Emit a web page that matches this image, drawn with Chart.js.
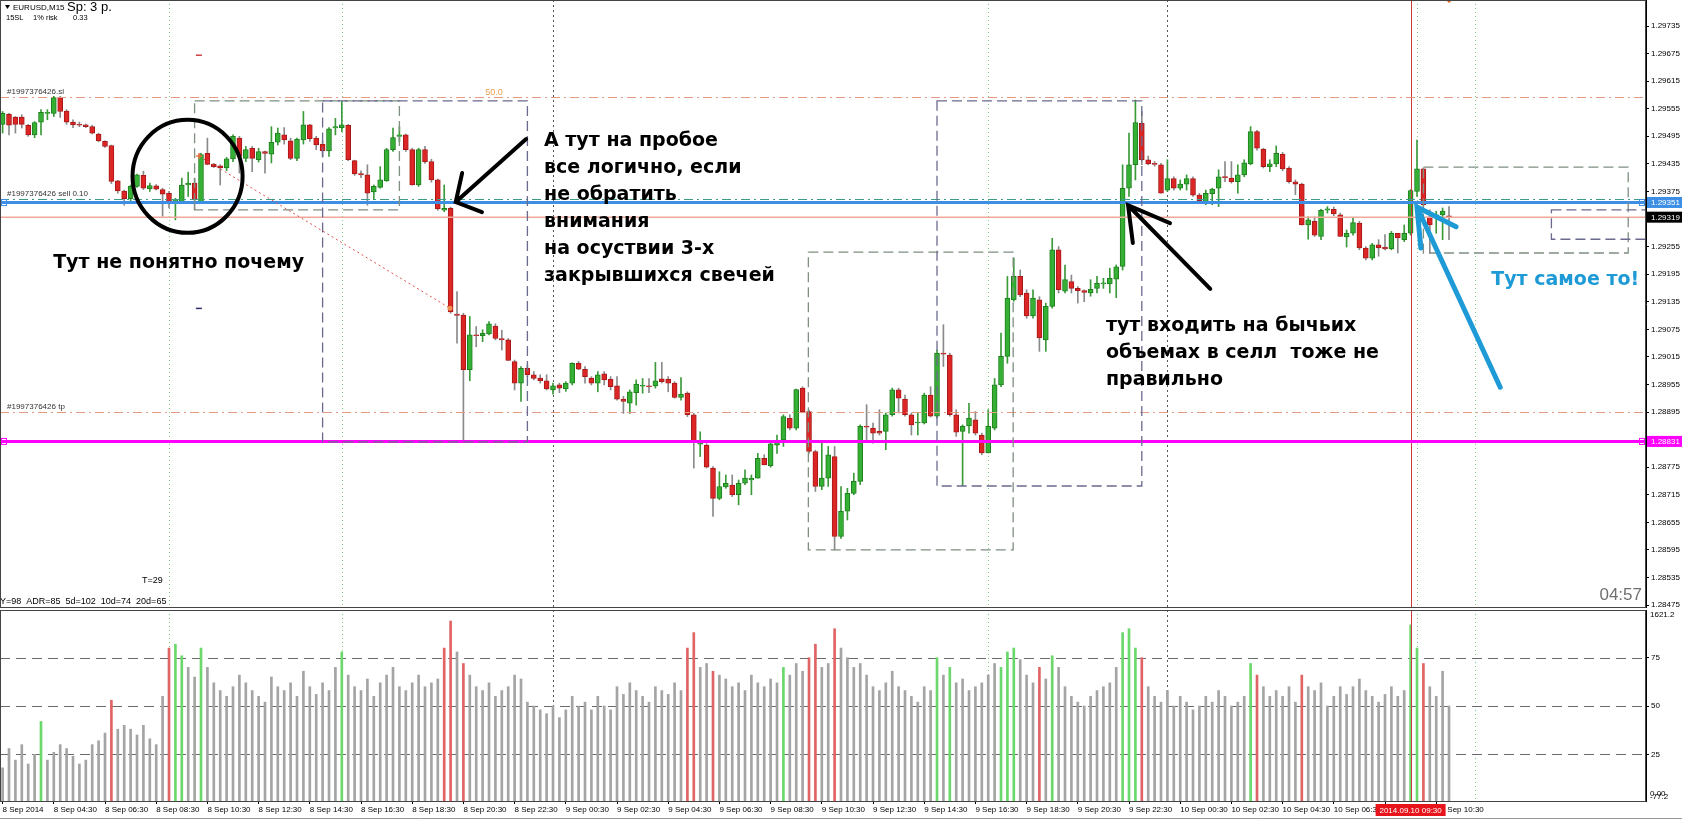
<!DOCTYPE html>
<html>
<head>
<meta charset="utf-8">
<script src="https://cdn.jsdelivr.net/npm/chart.js@4.4.1/dist/chart.umd.min.js"></script>
<style>
html,body{margin:0;padding:0;background:#fff;}
#wrap{position:relative;width:1682px;height:820px;overflow:hidden;background:#fff;}
#cPrice{position:absolute;left:0;top:0;}
#cVol{position:absolute;left:0;top:609px;}
</style>
</head>
<body>
<div id="wrap">
  <canvas id="cPrice" width="1682" height="608"></canvas>
  <canvas id="cVol" width="1682" height="211"></canvas>
</div>
<script>
// EURUSD M15, bars from 8 Sep 02:30 (index 0) to 10 Sep 11:00 (index 226)
const OPEN=[1.29521,1.29543,1.29537,1.29537,1.29519,1.29498,1.29526,1.29545,1.29545,1.29579,
1.29550,1.29526,1.29520,1.29520,1.29516,1.29500,1.29484,1.29475,1.29398,1.29376,
1.29359,1.29386,1.29410,1.29381,1.29387,1.29379,1.29371,1.29353,1.29353,1.29389,
1.29393,1.29353,1.29458,1.29434,1.29431,1.29426,1.29446,1.29491,1.29447,1.29469,
1.29444,1.29462,1.29456,1.29482,1.29498,1.29485,1.29447,1.29487,1.29520,1.29491,
1.29478,1.29463,1.29513,1.29514,1.29519,1.29442,1.29414,1.29411,1.29374,1.29384,
1.29398,1.29466,1.29495,1.29498,1.29466,1.29389,1.29466,1.29440,1.29400,1.29334,
1.29338,1.29108,1.29106,1.28987,1.29063,1.29061,1.29065,1.29082,1.29055,1.29052,
1.29005,1.28958,1.28990,1.28976,1.28969,1.28963,1.28943,1.28954,1.28945,1.28958,
1.29001,1.28988,1.28969,1.28958,1.28978,1.28966,1.28952,1.28923,1.28914,1.28937,
1.28951,1.28952,1.28952,1.28967,1.28966,1.28958,1.28927,1.28936,1.28889,1.28825,
1.28823,1.28773,1.28707,1.28732,1.28736,1.28715,1.28740,1.28747,1.28751,1.28794,
1.28778,1.28823,1.28834,1.28881,1.28860,1.28947,1.28896,1.28809,1.28733,1.28751,
1.28798,1.28624,1.28679,1.28718,1.28744,1.28864,1.28860,1.28853,1.28853,1.28889,
1.28943,1.28923,1.28889,1.28871,1.28871,1.28932,1.28886,1.29023,1.29019,1.28889,
1.28853,1.28865,1.28878,1.28845,1.28806,1.28860,1.28954,1.29016,1.29139,1.29190,
1.29154,1.29104,1.29139,1.29052,1.29125,1.29248,1.29158,1.29179,1.29164,1.29159,
1.29154,1.29164,1.29174,1.29174,1.29184,1.29212,1.29382,1.29433,1.29523,1.29444,
1.29435,1.29433,1.29378,1.29403,1.29382,1.29391,1.29403,1.29367,1.29353,1.29370,
1.29382,1.29407,1.29404,1.29396,1.29411,1.29435,1.29505,1.29467,1.29429,1.29435,
1.29456,1.29426,1.29396,1.29391,1.29302,1.29310,1.29277,1.29334,1.29336,1.29324,
1.29276,1.29284,1.29306,1.29252,1.29230,1.29259,1.29254,1.29250,1.29284,1.29270,
1.29284,1.29375,1.29424,1.29320,1.29320,1.29324,1.29322];
const HIGH=[1.29549,1.29545,1.29538,1.29542,1.29521,1.29527,1.29553,1.29553,1.29582,1.29582,
1.29553,1.29531,1.29526,1.29522,1.29519,1.29502,1.29485,1.29476,1.29399,1.29378,
1.29389,1.29413,1.29419,1.29393,1.29390,1.29382,1.29375,1.29360,1.29404,1.29417,
1.29404,1.29458,1.29491,1.29436,1.29433,1.29449,1.29498,1.29495,1.29473,1.29473,
1.29469,1.29463,1.29516,1.29513,1.29514,1.29491,1.29491,1.29549,1.29521,1.29495,
1.29484,1.29514,1.29534,1.29571,1.29521,1.29443,1.29420,1.29433,1.29389,1.29429,
1.29469,1.29513,1.29516,1.29500,1.29469,1.29469,1.29473,1.29445,1.29402,1.29389,
1.29341,1.29157,1.29110,1.29103,1.29081,1.29074,1.29092,1.29087,1.29073,1.29055,
1.29008,1.28994,1.28997,1.28983,1.28976,1.28976,1.28958,1.28958,1.28961,1.29002,
1.29005,1.28994,1.28972,1.28983,1.28983,1.28972,1.28972,1.28929,1.28943,1.28965,
1.28968,1.28968,1.29003,1.29003,1.28972,1.28961,1.28970,1.28939,1.28892,1.28852,
1.28826,1.28776,1.28765,1.28758,1.28758,1.28747,1.28769,1.28758,1.28805,1.28802,
1.28829,1.28845,1.28889,1.28889,1.28945,1.28950,1.28899,1.28812,1.28831,1.28820,
1.28820,1.28733,1.28729,1.28762,1.28867,1.28911,1.28871,1.28900,1.28893,1.28947,
1.28947,1.28932,1.28893,1.28893,1.28936,1.28950,1.29030,1.29085,1.29023,1.28900,
1.28867,1.28914,1.28896,1.28849,1.28900,1.28968,1.29067,1.29190,1.29230,1.29204,
1.29161,1.29161,1.29146,1.29132,1.29273,1.29255,1.29215,1.29193,1.29168,1.29161,
1.29183,1.29190,1.29186,1.29208,1.29215,1.29433,1.29502,1.29574,1.29549,1.29452,
1.29440,1.29436,1.29444,1.29407,1.29400,1.29411,1.29407,1.29371,1.29378,1.29382,
1.29422,1.29440,1.29440,1.29433,1.29444,1.29516,1.29508,1.29469,1.29444,1.29474,
1.29460,1.29429,1.29400,1.29393,1.29320,1.29320,1.29336,1.29342,1.29341,1.29328,
1.29291,1.29317,1.29310,1.29255,1.29262,1.29270,1.29281,1.29288,1.29284,1.29302,
1.29379,1.29487,1.29426,1.29335,1.29332,1.29339,1.29342];
const LOW=[1.29502,1.29498,1.29502,1.29513,1.29495,1.29492,1.29498,1.29531,1.29538,1.29536,
1.29521,1.29514,1.29516,1.29514,1.29500,1.29483,1.29471,1.29392,1.29371,1.29345,
1.29353,1.29384,1.29379,1.29375,1.29378,1.29321,1.29339,1.29313,1.29350,1.29364,
1.29335,1.29350,1.29433,1.29427,1.29389,1.29420,1.29440,1.29415,1.29440,1.29418,
1.29439,1.29415,1.29437,1.29476,1.29478,1.29444,1.29442,1.29478,1.29484,1.29466,
1.29451,1.29451,1.29498,1.29505,1.29442,1.29410,1.29405,1.29345,1.29357,1.29382,
1.29397,1.29462,1.29484,1.29462,1.29389,1.29386,1.29436,1.29395,1.29334,1.29331,
1.29110,1.29045,1.28831,1.28963,1.29037,1.29048,1.29063,1.29052,1.29030,1.29007,
1.28943,1.28918,1.28972,1.28965,1.28958,1.28943,1.28934,1.28937,1.28940,1.28954,
1.28987,1.28958,1.28954,1.28939,1.28954,1.28943,1.28921,1.28892,1.28892,1.28910,
1.28936,1.28937,1.28947,1.28958,1.28939,1.28925,1.28921,1.28885,1.28773,1.28798,
1.28773,1.28668,1.28704,1.28729,1.28711,1.28693,1.28737,1.28715,1.28751,1.28780,
1.28775,1.28805,1.28820,1.28856,1.28856,1.28896,1.28805,1.28722,1.28726,1.28733,
1.28595,1.28620,1.28660,1.28715,1.28737,1.28835,1.28827,1.28845,1.28813,1.28886,
1.28893,1.28886,1.28845,1.28845,1.28869,1.28884,1.28882,1.28994,1.28886,1.28842,
1.28735,1.28849,1.28845,1.28802,1.28806,1.28856,1.28950,1.29001,1.29136,1.29146,
1.29099,1.29099,1.29027,1.29027,1.29121,1.29154,1.29154,1.29154,1.29132,1.29135,
1.29147,1.29154,1.29164,1.29154,1.29144,1.29204,1.29364,1.29400,1.29433,1.29433,
1.29430,1.29371,1.29375,1.29378,1.29378,1.29378,1.29364,1.29349,1.29346,1.29346,
1.29342,1.29396,1.29393,1.29371,1.29407,1.29433,1.29465,1.29426,1.29418,1.29429,
1.29420,1.29393,1.29368,1.29302,1.29271,1.29277,1.29270,1.29328,1.29322,1.29277,
1.29254,1.29280,1.29248,1.29226,1.29226,1.29234,1.29248,1.29248,1.29241,1.29266,
1.29280,1.29364,1.29342,1.29241,1.29284,1.29270,1.29270];
const CLOSE=[1.29545,1.29519,1.29521,1.29521,1.29498,1.29525,1.29547,1.29546,1.29579,1.29549,
1.29526,1.29520,1.29519,1.29516,1.29502,1.29485,1.29473,1.29397,1.29376,1.29359,
1.29386,1.29411,1.29382,1.29388,1.29380,1.29369,1.29353,1.29357,1.29389,1.29393,
1.29357,1.29455,1.29434,1.29429,1.29426,1.29446,1.29495,1.29451,1.29466,1.29447,
1.29462,1.29458,1.29482,1.29502,1.29487,1.29447,1.29489,1.29520,1.29490,1.29476,
1.29463,1.29511,1.29516,1.29520,1.29444,1.29413,1.29411,1.29371,1.29386,1.29400,
1.29466,1.29492,1.29498,1.29466,1.29389,1.29466,1.29440,1.29400,1.29337,1.29338,
1.29113,1.29105,1.28987,1.29063,1.29061,1.29066,1.29087,1.29055,1.29052,1.29007,
1.28958,1.28990,1.28976,1.28968,1.28963,1.28945,1.28952,1.28947,1.28958,1.29001,
1.28988,1.28972,1.28958,1.28976,1.28965,1.28950,1.28923,1.28918,1.28939,1.28956,
1.28952,1.28950,1.28963,1.28961,1.28958,1.28927,1.28934,1.28889,1.28831,1.28826,
1.28775,1.28707,1.28733,1.28740,1.28715,1.28740,1.28751,1.28751,1.28794,1.28780,
1.28826,1.28831,1.28885,1.28860,1.28944,1.28896,1.28809,1.28733,1.28751,1.28802,
1.28624,1.28679,1.28718,1.28744,1.28864,1.28862,1.28849,1.28849,1.28889,1.28943,
1.28925,1.28889,1.28867,1.28872,1.28932,1.28886,1.29023,1.29021,1.28889,1.28851,
1.28864,1.28882,1.28849,1.28806,1.28864,1.28954,1.29016,1.29143,1.29190,1.29150,
1.29104,1.29143,1.29056,1.29125,1.29248,1.29161,1.29183,1.29164,1.29159,1.29155,
1.29162,1.29175,1.29174,1.29186,1.29211,1.29382,1.29433,1.29525,1.29444,1.29435,
1.29434,1.29371,1.29403,1.29382,1.29391,1.29403,1.29367,1.29355,1.29371,1.29380,
1.29407,1.29405,1.29396,1.29411,1.29437,1.29505,1.29469,1.29429,1.29435,1.29458,
1.29424,1.29396,1.29391,1.29302,1.29313,1.29280,1.29334,1.29337,1.29326,1.29277,
1.29284,1.29307,1.29252,1.29230,1.29259,1.29252,1.29250,1.29284,1.29274,1.29284,
1.29377,1.29424,1.29346,1.29302,1.29324,1.29332,1.29319];
// tick volume oscillator (panel below), levels at 25/50/75
const VOLUME=[18,28,22,30,20,25,42,22,26,30,
28,24,20,22,30,32,36,53,38,40,
38,35,40,33,30,55,80,82,76,70,
65,80,70,62,58,55,60,66,62,58,
55,52,65,60,58,62,55,68,60,56,
62,58,70,78,66,60,58,64,55,62,
66,70,60,58,62,66,60,62,64,80,
94,78,72,66,60,58,62,55,58,60,
66,64,52,50,48,46,50,44,48,55,
50,52,48,55,50,48,60,56,62,58,
55,52,60,58,56,62,58,80,88,70,
72,68,66,64,60,62,58,66,62,60,
64,62,70,66,72,68,75,82,70,72,
90,80,75,70,72,66,60,58,62,68,
60,58,55,52,60,58,75,66,70,62,
64,58,60,62,66,72,70,78,80,74,
66,62,70,64,76,70,60,55,52,50,
55,58,60,62,70,88,90,80,75,60,
55,52,58,50,55,52,48,50,55,52,
58,55,50,52,55,72,66,60,55,58,
55,60,52,66,60,58,62,50,55,60,
56,60,64,58,55,52,56,60,55,58,
92,80,72,60,55,68,50];
const VOL_TONE=['n','n','n','n','n','n','g','n','n','n',
'n','n','n','n','n','n','n','r','n','n',
'n','n','n','n','n','n','r','g','g','n',
'n','g','n','n','n','n','n','n','n','n',
'n','n','n','n','n','n','n','n','n','n',
'n','n','n','g','n','n','n','n','n','n',
'n','n','n','n','n','n','n','n','n','r',
'r','n','r','n','n','n','n','n','n','n',
'n','n','n','n','n','n','n','n','n','n',
'n','n','n','n','n','n','n','n','n','n',
'n','n','n','n','n','n','n','r','r','n',
'n','r','n','n','n','n','n','n','n','n',
'n','n','g','n','n','n','r','r','n','n',
'r','n','n','n','n','n','n','n','n','n',
'n','n','n','n','n','n','g','n','g','n',
'n','n','n','n','n','n','g','g','g','n',
'n','n','r','n','g','n','n','n','n','n',
'n','n','n','n','n','g','g','g','r','n',
'n','n','n','n','n','n','n','n','n','n',
'n','n','n','n','n','g','r','n','n','n',
'n','n','n','r','n','n','n','n','n','n',
'n','n','n','n','n','n','n','n','n','n',
'g','g','r','n','n','n','n'];
const TIME_LABELS=['8 Sep 2014','8 Sep 04:30','8 Sep 06:30','8 Sep 08:30','8 Sep 10:30','8 Sep 12:30',
'8 Sep 14:30','8 Sep 16:30','8 Sep 18:30','8 Sep 20:30','8 Sep 22:30','9 Sep 00:30','9 Sep 02:30',
'9 Sep 04:30','9 Sep 06:30','9 Sep 08:30','9 Sep 10:30','9 Sep 12:30','9 Sep 14:30','9 Sep 16:30',
'9 Sep 18:30','9 Sep 20:30','9 Sep 22:30','10 Sep 00:30','10 Sep 02:30','10 Sep 04:30','10 Sep 06:30',
'10 Sep 08:30','10 Sep 10:30'];
const LABEL_STEP=8;
const PRICE_TICKS=[1.28475,1.28535,1.28595,1.28655,1.28715,1.28775,1.28835,1.28895,1.28955,1.29015,
1.29075,1.29135,1.29195,1.29255,1.29315,1.29375,1.29435,1.29495,1.29555,1.29615,1.29675,1.29735];
const LEVELS=[25,50,75];

// levels / objects on the chart
const SL_PRICE=1.29580, SELL_PRICE=1.29358, ORDER_PRICE=1.29351, BID_PRICE=1.29319, TP_PRICE=1.28894, MAG_PRICE=1.28831;
const DAY_SEP=[86,182];
const GREEN_VLINES=[26,53,154,221,230];
const RED_VLINE=220;
const BOXES=[
  {from:30,to:62,top:1.29572,bottom:1.29335,kind:'g'},
  {from:50,to:82,top:1.29572,bottom:1.28830,kind:'b'},
  {from:125.9,to:157.9,top:1.29243,bottom:1.28595,kind:'g'},
  {from:146,to:178,top:1.29572,bottom:1.28734,kind:'b'},
  {from:222,to:254,top:1.29428,bottom:1.29241,kind:'g'},
  {from:242,to:274,top:1.29335,bottom:1.29271,kind:'b'}
];
const TRADE=[{i:30.7,p:1.29452},{i:69.9,p:1.29121}];
const ARROWS=[
  {tail:[81.8,1.29489],tip:[70.8,1.29352],a:[71.8,1.29415],b:[74.9,1.29330],color:'#000'},
  {tail:[188.7,1.29163],tip:[175.85,1.29345],a:[176.6,1.29263],b:[182.4,1.29306],color:'#000'},
  {tail:[234,1.28949],tip:[221,1.29341],a:[221.6,1.29252],b:[227.1,1.29298],color:'#1e9ad6'}
];
const CIRCLE={i:28.9,p:1.29408,ri:8.6,rp:0.00123};
const NOTES=[
  {i:7.9,p:1.29219,lines:['Тут не понятно почему'],color:'#000'},
  {i:84.6,p:1.29485,lines:['А тут на пробое','все логично, если','не обратить','внимания','на осуствии 3-х','закрывшихся свечей'],color:'#000'},
  {i:172.4,p:1.29082,lines:['тут входить на бычьих','объемах в селл  тоже не','правильно'],color:'#000'},
  {i:232.6,p:1.29182,lines:['Тут самое то!'],color:'#1e9ad6'}
];

const BAR_COUNT=OPEN.length;
const IDX=Array.from({length:BAR_COUNT},(_,i)=>i);
const X_MIN=-0.40625, X_MAX=256.78;
const P_MIN=1.284685, P_MAX=1.297916;
const V_MIN=0.83, V_MAX=99.7;

const UP='#35b035', UP_EDGE='#1f7f1f', DN='#dc2626', DN_EDGE='#a81818';
const isUp=i=>CLOSE[i]>=OPEN[i];
const FONT='"Liberation Sans", Arial, sans-serif';

function vlines(ctx,area,xs){
  ctx.save();
  ctx.lineWidth=1;
  ctx.setLineDash([1,3]);
  ctx.strokeStyle='#7fcf7f';
  GREEN_VLINES.forEach(i=>{const x=Math.round(xs.getPixelForValue(i))+0.5;ctx.beginPath();ctx.moveTo(x,area.top);ctx.lineTo(x,area.bottom);ctx.stroke();});
  ctx.setLineDash([2,3]);
  ctx.strokeStyle='#555';
  DAY_SEP.forEach(i=>{const x=Math.round(xs.getPixelForValue(i))+0.5;ctx.beginPath();ctx.moveTo(x,area.top);ctx.lineTo(x,area.bottom);ctx.stroke();});
  ctx.restore();
}

const pricePlugin={
  id:'pricePlugin',
  beforeDatasetsDraw(chart){
    const {ctx,chartArea:a,scales:{x}}=chart;
    vlines(ctx,a,x);
  },
  afterDatasetsDraw(chart){
    const {ctx,chartArea:a,scales:{x,y}}=chart;
    const X=v=>x.getPixelForValue(v), Y=v=>y.getPixelForValue(v);
    ctx.save();
    ctx.beginPath();ctx.rect(a.left,a.top,a.right-a.left,a.bottom-a.top);ctx.clip();

    // red vertical line
    ctx.strokeStyle='#c83c3c';ctx.lineWidth=1;
    let rx=Math.round(X(RED_VLINE))+0.5;
    ctx.beginPath();ctx.moveTo(rx,a.top);ctx.lineTo(rx,a.bottom);ctx.stroke();

    // dash-dot order levels
    const dashDot=(p,col)=>{ctx.save();ctx.strokeStyle=col;ctx.lineWidth=1;ctx.setLineDash([9,4,2,4]);
      const yy=Math.round(Y(p))+0.5;ctx.beginPath();ctx.moveTo(a.left,yy);ctx.lineTo(a.right,yy);ctx.stroke();ctx.restore();};
    dashDot(SL_PRICE,'#e49a80');
    dashDot(TP_PRICE,'#e49a80');
    dashDot(SELL_PRICE,'#3f9a86');

    // bid line
    ctx.strokeStyle='#f0a898';ctx.lineWidth=1.5;
    let yy=Y(BID_PRICE);ctx.beginPath();ctx.moveTo(a.left,yy);ctx.lineTo(a.right,yy);ctx.stroke();
    // blue order line
    ctx.strokeStyle='#3d8fe6';ctx.lineWidth=3;
    yy=Y(ORDER_PRICE);ctx.beginPath();ctx.moveTo(a.left,yy);ctx.lineTo(a.right,yy);ctx.stroke();
    ctx.lineWidth=1;ctx.strokeRect(a.left+1.5,yy-3,5,6);ctx.strokeRect(a.right-6.5,yy-3,5,6);
    // magenta line
    ctx.strokeStyle='#ff00ff';ctx.lineWidth=3;
    yy=Y(MAG_PRICE);ctx.beginPath();ctx.moveTo(a.left,yy);ctx.lineTo(a.right,yy);ctx.stroke();
    ctx.lineWidth=1;ctx.strokeRect(a.left+1.5,yy-3,5,6);ctx.strokeRect(a.right-6.5,yy-3,5,6);

    // boxes
    BOXES.forEach(b=>{
      ctx.save();
      ctx.strokeStyle=b.kind==='g'?'#7f8f80':'#6a6a8e';
      ctx.lineWidth=1.3;ctx.setLineDash([10,5]);
      const x1=X(b.from),x2=X(b.to),y1=Y(b.top),y2=Y(b.bottom);
      ctx.strokeRect(x1,y1,x2-x1,y2-y1);
      ctx.restore();
    });

    // closed trade line
    ctx.save();
    ctx.strokeStyle='#e05050';ctx.lineWidth=1;ctx.setLineDash([2,3]);
    ctx.beginPath();ctx.moveTo(X(TRADE[0].i),Y(TRADE[0].p));ctx.lineTo(X(TRADE[1].i),Y(TRADE[1].p));ctx.stroke();
    ctx.setLineDash([]);
    ctx.strokeStyle='#e87040';ctx.lineWidth=1.5;
    let tx=X(TRADE[0].i),ty=Y(TRADE[0].p);
    ctx.beginPath();ctx.moveTo(tx-3,ty);ctx.lineTo(tx+3,ty);ctx.moveTo(tx,ty-3);ctx.lineTo(tx,ty+3);ctx.stroke();
    ctx.fillStyle='#f09050';
    ctx.beginPath();ctx.arc(X(TRADE[1].i),Y(TRADE[1].p),2.5,0,Math.PI*2);ctx.fill();
    ctx.restore();

    // small daily markers
    ctx.fillStyle='#d04040';ctx.fillRect(X(30.2),Y(1.29672)-0.5,6,1.5);
    ctx.fillStyle='#303070';ctx.fillRect(X(30.2),Y(1.29121)-0.5,6,1.5);

    // circle
    ctx.strokeStyle='#000';ctx.lineWidth=4;
    ctx.beginPath();
    ctx.ellipse(X(CIRCLE.i),Y(CIRCLE.p),X(CIRCLE.i+CIRCLE.ri)-X(CIRCLE.i),Y(CIRCLE.p-CIRCLE.rp)-Y(CIRCLE.p),0,0,Math.PI*2);
    ctx.stroke();

    // arrows
    ARROWS.forEach(ar=>{
      ctx.strokeStyle=ar.color;ctx.lineWidth=ar.color==='#000'?4:5;ctx.lineCap='round';
      const P=q=>[X(q[0]),Y(q[1])];
      const t=P(ar.tip),l=P(ar.tail),pa=P(ar.a),pb=P(ar.b);
      ctx.beginPath();
      ctx.moveTo(l[0],l[1]);ctx.lineTo(t[0],t[1]);
      ctx.moveTo(pa[0],pa[1]);ctx.lineTo(t[0],t[1]);ctx.lineTo(pb[0],pb[1]);
      ctx.stroke();
    });

    // notes
    ctx.font='bold 19px "DejaVu Sans", sans-serif';
    ctx.textBaseline='middle';ctx.textAlign='left';
    NOTES.forEach(n=>{
      ctx.fillStyle=n.color;
      const x0=X(n.i),y0=Y(n.p);
      n.lines.forEach((s,k)=>ctx.fillText(s,x0,y0+k*27));
    });

    // order labels
    ctx.font='8px '+FONT;ctx.fillStyle='#333';ctx.textBaseline='alphabetic';
    ctx.fillText('#1997376426.sl',a.left+7,Y(SL_PRICE)-3);
    ctx.fillText('#1997376426 sell 0.10',a.left+7,Y(SELL_PRICE)-3);
    ctx.fillText('#1997376426 tp',a.left+7,Y(TP_PRICE)-3);
    ctx.fillStyle='#e8a050';ctx.font='9px '+FONT;
    ctx.fillText('50.0',X(75.4),Y(SL_PRICE)-2);

    // top-left info
    ctx.fillStyle='#000';
    ctx.beginPath();ctx.moveTo(a.left+5,a.top+5);ctx.lineTo(a.left+10,a.top+5);ctx.lineTo(a.left+7.5,a.top+9);ctx.fill();
    ctx.font='8px '+FONT;ctx.textBaseline='middle';
    ctx.fillText('EURUSD,M15',a.left+13,a.top+7.5);
    ctx.font='13px '+FONT;ctx.fillText('Sp: 3 p.',a.left+67,a.top+7.5);
    ctx.font='7.5px '+FONT;
    ctx.fillText('15SL',a.left+6,a.top+17.5);ctx.fillText('1% risk',a.left+33,a.top+17.5);ctx.fillText('0.33',a.left+73,a.top+17.5);
    ctx.font='9px '+FONT;
    ctx.fillText('T=29',a.left+142,a.bottom-27);
    ctx.fillText('Y=98  ADR=85  5d=102  10d=74  20d=65',a.left+0,a.bottom-6);
    ctx.fillStyle='#707070';ctx.font='17px '+FONT;ctx.textAlign='right';
    ctx.fillText('04:57',a.right-4,a.bottom-13);
    ctx.fillStyle='#e06020';
    ctx.beginPath();ctx.moveTo(X(226)-3,a.top);ctx.lineTo(X(226)+3,a.top);ctx.lineTo(X(226),a.top+3);ctx.fill();
    ctx.restore();

    // price label boxes on the axis
    ctx.save();
    ctx.font='8px '+FONT;ctx.textBaseline='middle';ctx.textAlign='left';
    const tag=(p,bg,fg)=>{const y0=Y(p);ctx.fillStyle=bg;ctx.fillRect(a.right+1,y0-5.5,35,11);ctx.fillStyle=fg;ctx.fillText(p.toFixed(5),a.right+5,y0+0.5);};
    tag(ORDER_PRICE,'#3d8fe6','#fff');
    tag(BID_PRICE,'#000','#fff');
    tag(MAG_PRICE,'#ff00ff','#fff');
    // frame
    ctx.strokeStyle='#444';ctx.lineWidth=1;
    ctx.strokeRect(a.left+0.5,a.top+0.5,a.right-a.left-1,a.bottom-a.top-1);
    ctx.restore();
  }
};

const volPlugin={
  id:'volPlugin',
  beforeDatasetsDraw(chart){
    const {ctx,chartArea:a,scales:{x,y}}=chart;
    vlines(ctx,a,x);
    ctx.save();
    ctx.strokeStyle='#6a6a6a';ctx.lineWidth=1;ctx.setLineDash([10,6]);
    LEVELS.forEach(v=>{const yy=Math.round(y.getPixelForValue(v))+0.5;ctx.beginPath();ctx.moveTo(a.left,yy);ctx.lineTo(a.right,yy);ctx.stroke();});
    ctx.restore();
  },
  afterDatasetsDraw(chart){
    const {ctx,chartArea:a,scales:{x}}=chart;
    ctx.save();
    ctx.strokeStyle='#c83c3c';ctx.lineWidth=1;
    const rx=Math.round(x.getPixelForValue(RED_VLINE))+0.5;
    ctx.beginPath();ctx.moveTo(rx,a.top);ctx.lineTo(rx,a.bottom);ctx.stroke();
    ctx.strokeStyle='#444';
    ctx.strokeRect(a.left+0.5,a.top+0.5,a.right-a.left-1,a.bottom-a.top);
    ctx.font='8px '+FONT;ctx.fillStyle='#000';ctx.textBaseline='middle';ctx.textAlign='left';
    ctx.fillText('1621.2',a.right+4,a.top+5);
    ctx.fillText('0.00',a.right+4,a.bottom-7);
    ctx.fillText('-77.2',a.right+4,a.bottom-4);
    ctx.restore();
  },
  afterDraw(chart){
    const {ctx,chartArea:a,scales:{x}}=chart;
    ctx.save();
    const cx=x.getPixelForValue(RED_VLINE);
    ctx.fillStyle='#e8141c';
    ctx.fillRect(cx-35,a.bottom+3,70,12);
    ctx.fillStyle='#fff';ctx.font='8px '+FONT;ctx.textAlign='center';ctx.textBaseline='middle';
    ctx.fillText('2014.09.10 09:30',cx,a.bottom+9.5);
    ctx.strokeStyle='#999';ctx.lineWidth=1;
    ctx.beginPath();ctx.moveTo(0,chart.height-1.5);ctx.lineTo(chart.width,chart.height-1.5);ctx.stroke();
    ctx.restore();
  }
};

new Chart(document.getElementById('cPrice'),{
  type:'bar',
  data:{datasets:[
    {label:'wick',data:IDX.map(i=>({x:i,y:[LOW[i],HIGH[i]]})),
     backgroundColor:IDX.map(i=>isUp(i)?'#3a9a3a':'#8a8a8a'),barThickness:1,grouped:false,order:2},
    {label:'body',data:IDX.map(i=>({x:i,y:[Math.min(OPEN[i],CLOSE[i]),Math.max(OPEN[i],CLOSE[i])]})),
     backgroundColor:IDX.map(i=>isUp(i)?UP:DN),borderColor:IDX.map(i=>isUp(i)?UP_EDGE:DN_EDGE),
     borderWidth:1,borderSkipped:false,barThickness:5,minBarLength:1,grouped:false,order:1}
  ]},
  options:{
    responsive:false,animation:false,events:[],
    layout:{padding:0},
    plugins:{legend:{display:false},tooltip:{enabled:false}},
    scales:{
      x:{type:'linear',min:X_MIN,max:X_MAX,offset:false,display:false,grid:{offset:false}},
      y:{type:'linear',position:'right',min:P_MIN,max:P_MAX,
        afterBuildTicks:s=>{s.ticks=PRICE_TICKS.map(v=>({value:v}));},
        afterFit:s=>{s.width=36;s.paddingTop=0;s.paddingBottom=0;},
        ticks:{callback:v=>Number(v).toFixed(5),font:{family:FONT,size:8},color:'#000',padding:2},
        grid:{drawOnChartArea:false,tickLength:3,color:'#000'},
        border:{color:'#000'}}
    }
  },
  plugins:[pricePlugin]
});

new Chart(document.getElementById('cVol'),{
  type:'bar',
  data:{datasets:[{label:'vol',data:IDX.map(i=>({x:i,y:VOLUME[i]})),
    backgroundColor:IDX.map(i=>VOL_TONE[i]==='r'?'#e06464':VOL_TONE[i]==='g'?'#6ad86a':'#a4a4a4'),
    barThickness:2,grouped:false}]},
  options:{
    responsive:false,animation:false,events:[],
    layout:{padding:{top:1,left:0,right:0,bottom:0}},
    plugins:{legend:{display:false},tooltip:{enabled:false}},
    scales:{
      x:{type:'linear',min:X_MIN,max:X_MAX,offset:false,position:'bottom',
        afterBuildTicks:s=>{s.ticks=TIME_LABELS.map((_,k)=>({value:k*LABEL_STEP}));},
        afterFit:s=>{s.height=19;s.paddingLeft=0;s.paddingRight=0;},
        ticks:{align:'start',maxRotation:0,autoSkip:false,callback:(v,k)=>TIME_LABELS[k],font:{family:FONT,size:8},color:'#000',padding:1},
        grid:{drawOnChartArea:false,tickLength:3,color:'#000',offset:false},
        border:{color:'#000'}},
      y:{type:'linear',position:'right',min:V_MIN,max:V_MAX,
        afterBuildTicks:s=>{s.ticks=LEVELS.map(v=>({value:v}));},
        afterFit:s=>{s.width=36;s.paddingTop=0;s.paddingBottom=0;},
        ticks:{callback:v=>String(v),font:{family:FONT,size:8},color:'#000',padding:2},
        grid:{drawOnChartArea:false,tickLength:3,color:'#000'},
        border:{color:'#000'}}
    }
  },
  plugins:[volPlugin]
});
</script>
</body>
</html>
